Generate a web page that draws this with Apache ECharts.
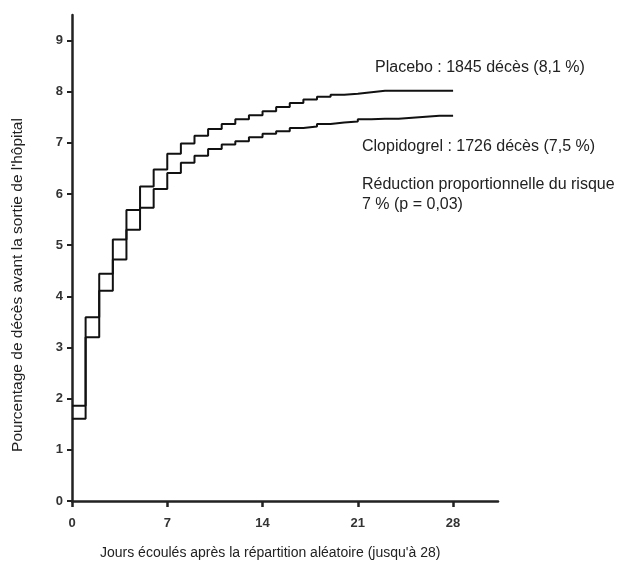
<!DOCTYPE html>
<html>
<head>
<meta charset="utf-8">
<script src="https://cdn.jsdelivr.net/npm/echarts@6/dist/echarts.min.js"></script>
<style>
  html, body { margin: 0; padding: 0; background: #fff; }
  #main { width: 618px; height: 571px; }
</style>
</head>
<body>
<div id="main"></div>
<script>
// jours 0..28, valeur tenue jusqu'au jour suivant
const days = [0,1,2,3,4,5,6,7,8,9,10,11,12,13,14,15,16,17,18,19,20,21,22,23,24,25,26,27,28];
const placebo = [1.86,3.59,4.44,5.11,5.69,6.15,6.48,6.79,6.99,7.14,7.27,7.37,7.46,7.54,7.62,7.70,7.78,7.85,7.90,7.94,7.96,7.99,8.02,8.02,8.02,8.02,8.02,8.02,8.02];
const clopidogrel = [1.61,3.20,4.11,4.72,5.30,5.73,6.10,6.41,6.61,6.75,6.88,6.97,7.03,7.11,7.18,7.23,7.29,7.32,7.37,7.40,7.42,7.46,7.47,7.47,7.49,7.51,7.53,7.53,7.53];
const xTicks = [0,7,14,21,28];
const yTicks = [0,1,2,3,4,5,6,7,8,9];

const font = 'Liberation Sans, Arial, sans-serif';
const myChart = echarts.init(document.getElementById('main'));
myChart.setOption({
    animation: false,
    grid: { left: 72, right: 120, top: 15, bottom: 70, containLabel: false },
    xAxis: {
        type: 'value',
        min: 0,
        max: 31.3,
        axisLine: { lineStyle: { color: '#222', width: 2.5 } },
        axisTick: { show: true, customValues: xTicks, length: 6, lineStyle: { color: '#222', width: 2.5 } },
        axisLabel: { customValues: xTicks, margin: 16, color: '#333', fontWeight: 'bold', fontSize: 13, fontFamily: font },
        splitLine: { show: false }
    },
    yAxis: {
        type: 'value',
        min: 0,
        max: 9.5,
        axisLine: { show: true, lineStyle: { color: '#222', width: 2.5 } },
        axisTick: { show: true, customValues: yTicks, length: 5, lineStyle: { color: '#222', width: 2 } },
        axisLabel: { customValues: yTicks, margin: 9, color: '#333', fontWeight: 'bold', fontSize: 13, fontFamily: font },
        splitLine: { show: false }
    },
    series: [{
        name: 'Placebo',
        type: 'line',
        step: 'end',
        symbol: 'none',
        lineStyle: { color: '#111', width: 2 },
        data: days.map((d, i) => [d, placebo[i]])
    }, {
        name: 'Clopidogrel',
        type: 'line',
        step: 'end',
        symbol: 'none',
        lineStyle: { color: '#111', width: 2 },
        data: days.map((d, i) => [d, clopidogrel[i]])
    }],
    graphic: [{
        type: 'text', left: 375, top: 60,
        style: { text: 'Placebo : 1845 décès (8,1 %)', fontSize: 16, fontFamily: font, fill: '#222' }
    }, {
        type: 'text', left: 362, top: 139,
        style: { text: 'Clopidogrel : 1726 décès (7,5 %)', fontSize: 16, fontFamily: font, fill: '#222' }
    }, {
        type: 'text', left: 362, top: 175,
        style: { text: 'Réduction proportionnelle du risque\n7 % (p = 0,03)', fontSize: 16, lineHeight: 20, fontFamily: font, fill: '#222' }
    }, {
        type: 'text', left: 100, top: 546,
        style: { text: "Jours écoulés après la répartition aléatoire (jusqu'à 28)", fontSize: 14, fontFamily: font, fill: '#222' }
    }, {
        type: 'text', x: 18, y: 285, rotation: Math.PI / 2,
        style: { text: "Pourcentage de décès avant la sortie de l'hôpital", fontSize: 15.5, fontFamily: font, fill: '#222', align: 'center', verticalAlign: 'middle' }
    }]
});
</script>
</body>
</html>
